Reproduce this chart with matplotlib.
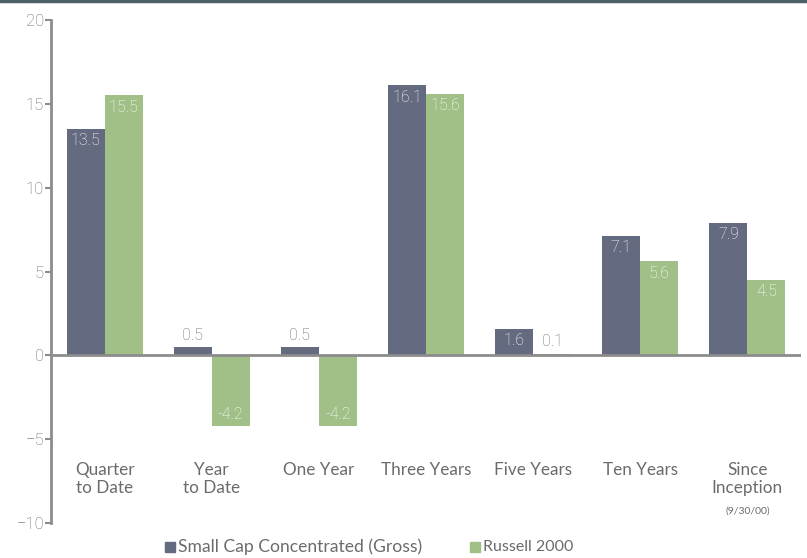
import numpy as np
import matplotlib.pyplot as plt
from matplotlib.patches import Rectangle
from matplotlib.lines import Line2D

# ---- Daten ----
categories = ["Quarter\nto Date", "Year\nto Date", "One Year", "Three Years",
              "Five Years", "Ten Years", "Since\nInception"]
small_cap = [13.5, 0.5, 0.5, 16.1, 1.6, 7.1, 7.9]
russell = [15.5, -4.2, -4.2, 15.6, 0.1, 5.6, 4.5]
series_names = ["Small Cap Concentrated (Gross)", "Russell 2000"]
yticks = [-10, -5, 0, 5, 10, 15, 20]

c_dark = "#646a80"
c_green = "#a0c088"
c_axis = "#8c8c8c"
c_text = "#6b6b6b"

W, H = 807, 558
fig = plt.figure(figsize=(W / 100, H / 100), dpi=100)
ax = fig.add_axes([51/W, 1 - 523/H, 750/W, 503/H])

x = np.arange(len(categories))
w = 0.355
b1 = ax.bar(x - w, small_cap, width=w, align="edge", color=c_dark, zorder=2)
b2 = ax.bar(x, russell, width=w, align="edge", color=c_green, zorder=2)

ax.set_xlim(-0.5, 6.5)
ax.set_ylim(-10, 20)
ax.set_yticks(yticks)
ax.set_xticks([])

for s in ["top", "right", "bottom"]:
    ax.spines[s].set_visible(False)
ax.spines["left"].set_color(c_axis)
ax.spines["left"].set_linewidth(2)
ax.tick_params(axis="y", colors=c_axis, length=4, width=1.5, pad=1,
               labelsize=12, labelcolor="#6a6a6a")
for lbl in ax.get_yticklabels():
    lbl.set_fontfamily("Roboto")
    lbl.set_fontweight("light")

# Nulllinie
ax.axhline(0, color=c_axis, linewidth=2, zorder=3)

# Werte an den Balken
def beschriften(bars, vals):
    for rect, v in zip(bars, vals):
        cx = rect.get_x() + rect.get_width() / 2
        if v >= 1:
            ax.text(cx, v - 0.25, f"{v:.1f}", ha="center", va="top", color="white",
                    fontsize=11.5, family="Roboto", fontweight="light", zorder=4)
        elif v >= 0:
            ax.text(cx, v + 0.25, f"{v:.1f}", ha="center", va="bottom", color="#6a6a6a",
                    fontsize=11.5, family="Roboto", fontweight="light", zorder=4)
        else:
            ax.text(cx, v + 0.25, f"{v:.1f}", ha="center", va="bottom", color="white",
                    fontsize=11.5, family="Roboto", fontweight="light", zorder=4)

beschriften(b1, small_cap)
beschriften(b2, russell)

# Kategorien
for xi, cat in zip(x, categories):
    ax.text(xi, -6.35, cat, ha="center", va="top", color=c_text, fontsize=12.3,
            family="Lato", linespacing=1.15)
ax.text(x[-1], -9.05, "(9/30/00)", ha="center", va="top", color=c_text,
        fontsize=7.5, family="Lato")

# Legende (von Hand platziert)
leg_pos = [165, 470]
for px, name, col in zip(leg_pos, series_names, [c_dark, c_green]):
    fig.add_artist(Rectangle((px / W, 1 - 552/H), 10/W, 10/H, transform=fig.transFigure,
                             color=col))
    fig.text((px + 13) / W, 1 - 547/H, name, ha="left", va="center", color=c_text,
             fontsize=12.6 if col == c_dark else 11.5, family="Lato")

# Linie am oberen Rand
fig.add_artist(Line2D([0, 1], [0.998, 0.998], transform=fig.transFigure,
                      color="#4d6266", linewidth=2.5))

fig.savefig("out.png", dpi=100)
